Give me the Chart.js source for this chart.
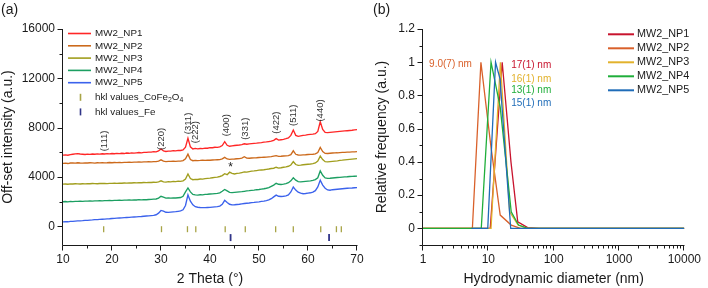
<!DOCTYPE html>
<html>
<head>
<meta charset="utf-8">
<script src="https://cdn.jsdelivr.net/npm/chart.js@4.4.1/dist/chart.umd.min.js"></script>
<style>
html, body { margin: 0; padding: 0; background: #fff; }
#wrap { position: relative; width: 708px; height: 288px; overflow: hidden; }
#xrdCanvas { position: absolute; left: 0; top: 0; }
#dlsCanvas { position: absolute; left: 360px; top: 0; }
</style>
</head>
<body>
<div id="wrap">
    <canvas id="xrdCanvas" width="380" height="288"></canvas>
    <canvas id="dlsCanvas" width="348" height="288"></canvas>
</div>
<script>
// ---------- (a) XRD patterns, 2 theta in degrees ----------
let theta = [
    10,10.5,11,11.5,12,12.5,13,13.5,14,14.5,
    15,15.5,16,16.5,17,17.5,18,18.5,19,19.5,
    20,20.5,21,21.5,22,22.5,23,23.5,24,24.5,
    25,25.5,26,26.5,27,27.5,28,28.5,29,29.5,
    30,30.5,31,31.5,32,32.5,33,33.5,34,34.5,
    35,35.5,36,36.5,37,37.5,38,38.5,39,39.5,
    40,40.5,41,41.5,42,42.5,43,43.5,44,44.5,
    45,45.5,46,46.5,47,47.5,48,48.5,49,49.5,
    50,50.5,51,51.5,52,52.5,53,53.5,54,54.5,
    55,55.5,56,56.5,57,57.5,58,58.5,59,59.5,
    60,60.5,61,61.5,62,62.5,63,63.5,64,64.5,
    65,65.5,66,66.5,67,67.5,68,68.5,69,69.5,
    70
];
let np1Xrd = [
    5780,5800,5770,5820,5850,5880,5900,5870,5850,5830,
    5860,5840,5870,5850,5880,5860,5890,5870,5900,5880,
    5910,5890,5920,5900,5930,5910,5950,5930,5960,5940,
    5970,5990,5970,6010,6000,6030,6020,6060,6050,6120,
    6280,6130,6080,6110,6100,6140,6130,6170,6160,6200,
    6420,7150,6450,6280,6330,6290,6320,6310,6350,6340,
    6390,6380,6420,6410,6450,6560,6870,6580,6500,6530,
    6560,6580,6600,6630,6700,6660,6690,6710,6730,6750,
    6780,6800,6830,6850,6880,6910,6980,7120,7000,7030,
    7060,7110,7180,7380,7810,7380,7300,7340,7380,7400,
    7440,7460,7480,7520,7700,8480,7860,7620,7600,7620,
    7640,7660,7680,7700,7720,7740,7760,7780,7800,7830,
    7850
];
let np2Xrd = [
    5110,5130,5100,5140,5150,5130,5160,5140,5130,5150,
    5140,5160,5150,5130,5160,5150,5170,5150,5160,5180,
    5160,5180,5170,5190,5180,5200,5190,5210,5200,5220,
    5210,5230,5220,5240,5230,5250,5240,5260,5250,5300,
    5400,5290,5260,5280,5270,5290,5280,5300,5290,5340,
    5480,5860,5420,5330,5360,5340,5350,5370,5360,5380,
    5370,5390,5400,5410,5420,5480,5600,5470,5440,5460,
    5470,5490,5500,5540,5650,5540,5530,5550,5560,5570,
    5590,5600,5610,5620,5640,5660,5700,5740,5680,5690,
    5710,5720,5740,5820,6130,5850,5790,5780,5800,5810,
    5830,5840,5850,5880,5990,6400,6070,5920,5910,5930,
    5950,5960,5970,5990,6000,6010,6020,6030,6040,6050,
    6060
];
let np3Xrd = [
    3430,3440,3420,3450,3440,3460,3450,3440,3460,3450,
    3470,3460,3480,3470,3460,3480,3490,3480,3470,3490,
    3490,3500,3490,3510,3500,3520,3510,3530,3520,3540,
    3530,3550,3540,3560,3550,3570,3560,3580,3570,3620,
    3700,3610,3600,3630,3620,3650,3640,3670,3660,3700,
    3850,4250,3880,3790,3820,3810,3850,3840,3880,3900,
    3920,3950,3980,4000,4050,4120,4280,4200,4400,4300,
    4250,4300,4320,4370,4420,4400,4450,4480,4500,4530,
    4560,4580,4600,4630,4660,4700,4720,4800,4730,4760,
    4800,4830,4880,4980,5250,5020,4950,4970,5000,5020,
    5040,5060,5090,5150,5300,5700,5420,5250,5240,5260,
    5280,5300,5320,5350,5370,5400,5420,5440,5460,5480,
    5500
];
let np4Xrd = [
    2000,2020,1990,2030,2010,2040,2030,2050,2040,2060,
    2050,2070,2060,2080,2070,2090,2080,2100,2090,2110,
    2100,2120,2110,2130,2120,2140,2130,2150,2140,2160,
    2150,2170,2160,2180,2170,2190,2200,2220,2230,2300,
    2450,2380,2300,2310,2300,2320,2310,2330,2350,2450,
    2800,3120,2800,2600,2560,2540,2570,2560,2600,2610,
    2630,2640,2660,2680,2720,2850,3000,2880,2760,2740,
    2760,2780,2800,2820,2850,2880,2900,2930,2950,2980,
    3000,3030,3060,3100,3150,3250,3350,3500,3420,3400,
    3430,3470,3550,3700,3950,3750,3640,3620,3640,3660,
    3680,3700,3730,3800,3950,4500,4150,3940,3900,3910,
    3930,3950,3970,3980,4000,4020,4030,4050,4060,4070,
    4080
];
let np5Xrd = [
    375,390,380,410,420,440,450,460,470,490,
    500,520,530,550,560,580,590,600,620,630,
    650,660,680,690,700,720,730,740,760,770,
    780,800,810,830,850,860,880,900,950,1080,
    1300,1250,1150,1140,1160,1180,1200,1230,1260,1350,
    1700,2560,2050,1750,1600,1560,1540,1530,1530,1540,
    1550,1570,1590,1610,1650,1800,2120,1950,1800,1750,
    1760,1780,1800,1830,1860,1880,1900,1930,1950,1980,
    2000,2030,2060,2100,2150,2250,2400,2540,2450,2430,
    2450,2480,2560,2800,3200,2950,2780,2700,2650,2670,
    2700,2730,2780,2900,3200,3750,3350,3100,2960,2940,
    2980,3000,3020,3040,3060,3080,3100,3110,3120,3140,
    3150
];

// reference reflections
let cofeTheta = [18.3, 30.1, 35.4, 37.1, 43.1, 47.2, 53.4, 57.0, 62.6, 65.8, 66.8];
let cofeLevel = -220;
let feTheta = [44.2, 64.3];
let feLevel = -900;

let hklNames = ["(111)", "(220)", "(311)", "(222)", "(400)", "(331)", "(422)", "(511)", "(440)"];
let hklTheta = [18.4, 30.1, 35.5, 37.1, 43.3, 47.2, 53.5, 57.0, 62.6];

let sampleNames = ["MW2_NP1", "MW2_NP2", "MW2_NP3", "MW2_NP4", "MW2_NP5"];
let xrdXTicks = [10, 20, 30, 40, 50, 60, 70];
let xrdYTicks = [0, 4000, 8000, 12000, 16000];

// ---------- (b) DLS size distributions ----------
let dlsSizeNP1 = [1, 10.7, 16.3, 22.2, 28.2, 40, 60, 10000];
let dlsFreqNP1 = [0, 0, 1, 0.4, 0.04, 0.005, 0, 0];
let dlsSizeNP2 = [1, 5.7, 7.7, 10.9, 15.2, 22.4, 31, 10000];
let dlsFreqNP2 = [0, 0, 1, 0.5, 0.08, 0.02, 0, 0];
let dlsSizeNP3 = [1, 11, 15.3, 21.2, 28.5, 40, 10000];
let dlsFreqNP3 = [0, 0, 1, 0.1, 0.02, 0, 0];
let dlsSizeNP4 = [1, 7.8, 11, 15.2, 22.4, 29, 40, 10000];
let dlsFreqNP4 = [0, 0, 1, 0.73, 0.1, 0.02, 0, 0];
let dlsSizeNP5 = [5.5, 9.8, 12.9, 15.1, 22, 10000];
let dlsFreqNP5 = [0, 0, 1, 0.9, 0, 0];

let dlsMeanLabels = ["17(1) nm", "9.0(7) nm", "16(1) nm", "13(1) nm", "15(1) nm"];
let dlsXTicks = [1, 10, 100, 1000, 10000];
let dlsYTicks = [0, 0.2, 0.4, 0.6, 0.8, 1, 1.2];

// ---------- look ----------
let xrdColors = ["#ff2626", "#cc6a1c", "#a19e1e", "#1c9f62", "#3b62ec"];
let dlsColors = ["#c8142e", "#d9602a", "#e2b22c", "#1fae3a", "#1f6cb8"];
let cofeColor = "#a8a446";
let feColor = "#303488";
let inkColor = "#1a1a1a";

Chart.defaults.font.family = "'Liberation Sans', Arial, sans-serif";
Chart.defaults.color = inkColor;

window.drawParts = (ctx, parts, x, y, size)=>{
    // parts: [text, isSubscript]
    let cx = x;
    for(let i = 0; i < parts.length; i++){
        let sub = parts[i][1];
        ctx.font = `${sub ? size * 0.7 : size}px 'Liberation Sans', Arial, sans-serif`;
        ctx.fillText(parts[i][0], cx, sub ? y + size * 0.3 : y);
        cx += ctx.measureText(parts[i][0]).width;
    }
}

const figurePlugin = {
    id: "figure",
    afterDraw(chart, args, opts){
        let ctx = chart.ctx;
        let area = chart.chartArea;
        let xs = chart.scales.x;
        let ys = chart.scales.y;
        ctx.save();

        // axis lines
        ctx.strokeStyle = inkColor;
        ctx.lineWidth = 1;
        let ax = Math.round(area.left) - 0.5;
        let ay = Math.round(area.bottom) + 0.5;
        ctx.beginPath();
        ctx.moveTo(ax, Math.round(area.top));
        ctx.lineTo(ax, ay);
        ctx.lineTo(Math.round(area.right) + 0.5, ay);
        ctx.stroke();

        // major and minor ticks, outward
        ctx.beginPath();
        let xTicks = opts.xMajor.map(v=>[v, 5]).concat(opts.xMinor.map(v=>[v, 3]));
        for(let i = 0; i < xTicks.length; i++){
            let px = Math.round(xs.getPixelForValue(xTicks[i][0])) - 0.5;
            ctx.moveTo(px, ay);
            ctx.lineTo(px, ay + xTicks[i][1]);
        }
        let yTicks = opts.yMajor.map(v=>[v, 5]).concat(opts.yMinor.map(v=>[v, 3]));
        for(let i = 0; i < yTicks.length; i++){
            let py = Math.round(ys.getPixelForValue(yTicks[i][0])) + 0.5;
            ctx.moveTo(ax, py);
            ctx.lineTo(ax - yTicks[i][1], py);
        }
        ctx.stroke();

        // legend
        let lg = opts.legend;
        let rowY = lg.y;
        ctx.textBaseline = "middle";
        ctx.textAlign = "left";
        let sets = chart.data.datasets;
        for(let i = 0; i < sets.length; i++){
            let ds = sets[i];
            if(ds.legendMarker){
                rowY += lg.markerGap;
                ctx.strokeStyle = ds.pointBorderColor;
                ctx.lineWidth = 1.6;
                ctx.beginPath();
                let mx = Math.round(lg.x + lg.lineLen / 2) + 0.5;
                ctx.moveTo(mx, rowY - 3.5);
                ctx.lineTo(mx, rowY + 3.5);
                ctx.stroke();
            } else {
                ctx.strokeStyle = ds.borderColor;
                ctx.lineWidth = lg.lineWidth;
                ctx.beginPath();
                ctx.moveTo(lg.x, rowY);
                ctx.lineTo(lg.x + lg.lineLen, rowY);
                ctx.stroke();
            }
            ctx.fillStyle = inkColor;
            drawParts(ctx, ds.legendParts || [[ds.label, 0]], lg.x + lg.lineLen + lg.gap, rowY, lg.size);
            rowY += lg.dy;
        }

        // texts placed in data space or on the canvas
        let notes = opts.notes;
        for(let i = 0; i < notes.length; i++){
            let n = notes[i];
            let px = n.canvas ? n.x : xs.getPixelForValue(n.x);
            let py = n.canvas ? n.y : ys.getPixelForValue(n.y);
            ctx.save();
            ctx.translate(px, py);
            if(n.rotate){
                ctx.rotate(-Math.PI / 2);
            }
            ctx.fillStyle = n.color || inkColor;
            ctx.font = `${n.size}px 'Liberation Sans', Arial, sans-serif`;
            ctx.textAlign = n.align || "center";
            ctx.textBaseline = "middle";
            ctx.fillText(n.text, 0, 0);
            ctx.restore();
        }
        ctx.restore();
    }
};

// ---------- chart (a) ----------
let xrdSeries = [np1Xrd, np2Xrd, np3Xrd, np4Xrd, np5Xrd];
let xrdDatasets = [];
for(let i = 0; i < xrdSeries.length; i++){
    xrdDatasets.push({
        label: sampleNames[i],
        data: theta.map((t, j)=>({x: t, y: xrdSeries[i][j]})),
        borderColor: xrdColors[i],
        borderWidth: 1.35,
        pointRadius: 0,
        tension: 0,
        fill: false
    });
}
xrdDatasets.push({
    label: "hkl values_CoFe2O4",
    legendParts: [["hkl values_CoFe", 0], ["2", 1], ["O", 0], ["4", 1]],
    legendMarker: true,
    data: cofeTheta.map(t=>({x: t, y: cofeLevel})),
    showLine: false,
    pointStyle: "line",
    rotation: 90,
    pointRadius: 3,
    pointBorderColor: cofeColor,
    pointBorderWidth: 1.3
});
xrdDatasets.push({
    label: "hkl values_Fe",
    legendMarker: true,
    data: feTheta.map(t=>({x: t, y: feLevel})),
    showLine: false,
    pointStyle: "line",
    rotation: 90,
    pointRadius: 3.5,
    pointBorderColor: feColor,
    pointBorderWidth: 1.8
});

let hklLabelY = [6930, 7100, 8350, 7650, 8200, 7920, 8420, 9010, 9400];
let xrdNotes = [{text: "(a)", x: 1, y: 10, size: 14, canvas: true, align: "left"}];
for(let i = 0; i < hklNames.length; i++){
    xrdNotes.push({text: hklNames[i], x: hklTheta[i], y: hklLabelY[i], size: 9.5, rotate: true, color: "#333"});
}
xrdNotes.push({text: "*", x: 44.2, y: 4750, size: 12, color: "#222"});

new Chart(document.querySelector("#xrdCanvas"), {
    type: "line",
    data: {datasets: xrdDatasets},
    options: {
        responsive: false,
        animation: false,
        events: [],
        layout: {padding: {top: 29, right: 23, left: 0, bottom: 0}},
        plugins: {
            legend: {display: false},
            tooltip: {enabled: false},
            figure: {
                xMajor: xrdXTicks,
                xMinor: [15, 25, 35, 45, 55, 65],
                yMajor: xrdYTicks,
                yMinor: [2000, 6000, 10000, 14000],
                legend: {x: 68, y: 33.5, dy: 12.3, markerGap: 2.3, lineLen: 23, lineWidth: 1.6, gap: 4, size: 9.8},
                notes: xrdNotes
            }
        },
        scales: {
            x: {
                type: "linear",
                min: 10,
                max: 70,
                afterBuildTicks: (s)=>{ s.ticks = xrdXTicks.map(v=>({value: v})); },
                afterFit: (s)=>{ s.height = 43; },
                grid: {display: false, drawTicks: false},
                border: {display: false},
                ticks: {padding: 7, font: {size: 12}, maxRotation: 0, autoSkip: false, callback: (v)=>String(v)},
                title: {display: true, text: "2 Theta (°)", font: {size: 14}, padding: {top: 0, bottom: 0}}
            },
            y: {
                min: -1500,
                max: 16000,
                afterBuildTicks: (s)=>{ s.ticks = xrdYTicks.map(v=>({value: v})); },
                afterFit: (s)=>{ s.width = 63; },
                grid: {display: false, drawTicks: false},
                border: {display: false},
                ticks: {padding: 8, font: {size: 12}, callback: (v)=>String(v)},
                title: {display: true, text: "Off-set intensity (a.u.)", font: {size: 14}, padding: {top: 0, bottom: 0}}
            }
        }
    },
    plugins: [figurePlugin]
});

// ---------- chart (b) ----------
let dlsSizes = [dlsSizeNP1, dlsSizeNP2, dlsSizeNP3, dlsSizeNP4, dlsSizeNP5];
let dlsFreqs = [dlsFreqNP1, dlsFreqNP2, dlsFreqNP3, dlsFreqNP4, dlsFreqNP5];
let dlsDatasets = [];
for(let i = 0; i < dlsSizes.length; i++){
    dlsDatasets.push({
        label: sampleNames[i],
        data: dlsSizes[i].map((d, j)=>({x: d, y: dlsFreqs[i][j]})),
        borderColor: dlsColors[i],
        borderWidth: 1.3,
        pointRadius: 0,
        tension: 0,
        fill: false,
        order: dlsSizes.length - i
    });
}

let dlsNotes = [
    {text: "(b)", x: 13, y: 10, size: 14, canvas: true, align: "left"},
    {text: dlsMeanLabels[1], x: 5.6, y: 0.985, size: 10, color: dlsColors[1], align: "right"},
    {text: dlsMeanLabels[0], x: 22.4, y: 0.98, size: 10, color: dlsColors[0], align: "left"},
    {text: dlsMeanLabels[2], x: 22.4, y: 0.9, size: 10, color: dlsColors[2], align: "left"},
    {text: dlsMeanLabels[3], x: 22.4, y: 0.83, size: 10, color: dlsColors[3], align: "left"},
    {text: dlsMeanLabels[4], x: 22.4, y: 0.755, size: 10, color: dlsColors[4], align: "left"}
];

new Chart(document.querySelector("#dlsCanvas"), {
    type: "line",
    data: {datasets: dlsDatasets},
    options: {
        responsive: false,
        animation: false,
        events: [],
        layout: {padding: {top: 29, right: 18, left: 0, bottom: 0}},
        plugins: {
            legend: {display: false},
            tooltip: {enabled: false},
            figure: {
                xMajor: dlsXTicks,
                xMinor: [2,3,4,5,6,7,8,9, 20,30,40,50,60,70,80,90, 200,300,400,500,600,700,800,900, 2000,3000,4000,5000,6000,7000,8000,9000],
                yMajor: dlsYTicks,
                yMinor: [-0.1, 0.1, 0.3, 0.5, 0.7, 0.9, 1.1],
                legend: {x: 248, y: 34.3, dy: 14, markerGap: 0, lineLen: 26, lineWidth: 2, gap: 3, size: 10.8},
                notes: dlsNotes
            }
        },
        scales: {
            x: {
                type: "logarithmic",
                min: 1,
                max: 10000,
                afterBuildTicks: (s)=>{ s.ticks = dlsXTicks.map(v=>({value: v})); },
                afterFit: (s)=>{ s.height = 43; },
                grid: {display: false, drawTicks: false},
                border: {display: false},
                ticks: {padding: 7, font: {size: 12}, maxRotation: 0, autoSkip: false, callback: (v)=>String(v)},
                title: {display: true, text: "Hydrodynamic diameter (nm)", font: {size: 14}, padding: {top: 0, bottom: 0}}
            },
            y: {
                min: -0.1,
                max: 1.2,
                afterBuildTicks: (s)=>{ s.ticks = dlsYTicks.map(v=>({value: v})); },
                afterFit: (s)=>{ s.width = 63; },
                grid: {display: false, drawTicks: false},
                border: {display: false},
                ticks: {padding: 8, font: {size: 12}, callback: (v)=>String(v)},
                title: {display: true, text: "Relative frequency (a.u.)", font: {size: 14}, padding: {top: 14, bottom: 0}}
            }
        }
    },
    plugins: [figurePlugin]
});
</script>
</body>
</html>
